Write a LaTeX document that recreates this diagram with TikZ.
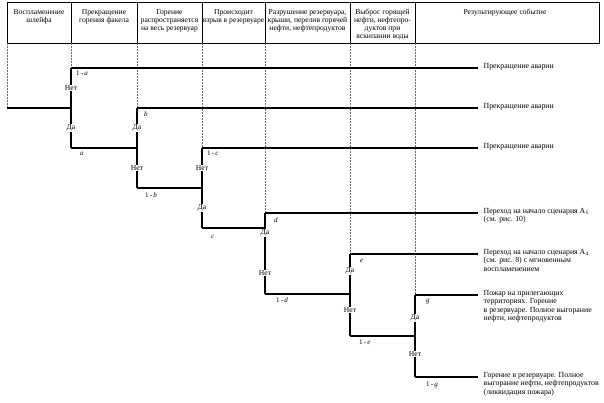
\documentclass[tikz,border=0pt]{standalone}
\usepackage{fontspec}
\setmainfont{Liberation Serif}
\usetikzlibrary{calc}

\tikzset{
  hdr/.style={anchor=north, align=center, inner sep=0pt, font=\fontsize{7.6}{8.1}\selectfont},
  yn/.style={fill=white, inner sep=0.5pt, font=\fontsize{7.6}{8}\selectfont},
  pr/.style={anchor=west, inner sep=0pt, font=\fontsize{7}{8}\selectfont},
  res/.style={anchor=north west, xshift=5.5pt, yshift=4.8pt, align=left, inner sep=0pt, font=\fontsize{7.8}{8.4}\selectfont},
  br/.style={line width=1.3pt},
  guide/.style={black!60, line width=0.4pt, dash pattern=on 1.5pt off 1.5pt},
}

\begin{document}
\begin{tikzpicture}[x=1pt,y=-1pt]
  \useasboundingbox (0,0) rectangle (604,402);

  \draw[line width=0.8pt] (7,2) rectangle (599,43);
  \foreach \x in {71,137,202,265,350,415}
    \draw[line width=0.6pt] (\x,2) -- (\x,43);

  \node[hdr] (h1) at (39,9) {Воспламенение\\шлейфа};
  \node[hdr] (h2) at (104,9) {Прекращение\\горения факела};
  \node[hdr] (h3) at (169.5,9) {Горение\\распространяется\\на весь резервуар};
  \node[hdr] (h4) at (233.5,9) {Происходит\\взрыв в резервуаре};
  \node[hdr] (h5) at (307.5,9) {Разрушение резервуара,\\крыши, перелив горячей\\нефти, нефтепродуктов};
  \node[hdr] (h6) at (382.5,9) {Выброс горящей\\нефти, нефтепро-\\дуктов при\\вскипании воды};
  \node[hdr] (h7) at (505,9) {Результирующее событие};

  \coordinate (s) at (7,108);
  \coordinate (a) at (71,108);
  \coordinate (a1) at (71,68);
  \coordinate (a2) at (71,148);
  \coordinate (b1) at (137,108);
  \coordinate (b2) at (137,188);
  \coordinate (b) at (137,148);
  \coordinate (c1) at (202,148);
  \coordinate (c2) at (202,228);
  \coordinate (c) at (202,188);
  \coordinate (d1) at (265,213);
  \coordinate (d2) at (265,294);
  \coordinate (d) at (265,228);
  \coordinate (e1) at (350,254);
  \coordinate (e2) at (350,336);
  \coordinate (e) at (350,294);
  \coordinate (g1) at (415,295);
  \coordinate (g2) at (415,377);
  \coordinate (g) at (415,336);

  \coordinate (r1) at (478,68);
  \coordinate (r2) at (478,108);
  \coordinate (r3) at (478,148);
  \coordinate (r4) at (478,213);
  \coordinate (r5) at (478,254);
  \coordinate (r6) at (478,295);
  \coordinate (r7) at (478,377);

  \draw[guide] (7,43) -- (s);
  \draw[guide] (71,43) -- (a1);
  \draw[guide] (137,43) -- (b1);
  \draw[guide] (202,43) -- (c1);
  \draw[guide] (265,43) -- (d1);
  \draw[guide] (350,43) -- (e1);
  \draw[guide] (415,43) -- (g1);

  \draw[br] (s) -- (a);
  \draw[br] (a1) -- (a2);
  \draw[br] (a1) -- (r1);
  \draw[br] (a2) -- (b);

  \draw[br] (b1) -- (b2);
  \draw[br] (b1) -- (r2);
  \draw[br] (b2) -- (c);

  \draw[br] (c1) -- (c2);
  \draw[br] (c1) -- (r3);
  \draw[br] (c2) -- (d);

  \draw[br] (d1) -- (d2);
  \draw[br] (d1) -- (r4);
  \draw[br] (d2) -- (e);

  \draw[br] (e1) -- (e2);
  \draw[br] (e1) -- (r5);
  \draw[br] (e2) -- (g);

  \draw[br] (g1) -- (g2);
  \draw[br] (g1) -- (r6);
  \draw[br] (g2) -- (r7);

  \node[yn] (na) at (71,88) {Нет};
  \node[yn] (ya) at (71,128) {Да};
  \node[yn] (yb) at (137,128) {Да};
  \node[yn] (nb) at (137,168) {Нет};
  \node[yn] (nc) at (202,168) {Нет};
  \node[yn] (yc) at (202,208) {Да};
  \node[yn] (yd) at (265,233) {Да};
  \node[yn] (nd) at (265,273) {Нет};
  \node[yn] (ye) at (350,271) {Да};
  \node[yn] (ne) at (350,310) {Нет};
  \node[yn] (yg) at (415,318) {Да};
  \node[yn] (ng) at (415,354) {Нет};

  \node[pr] (pa1) at (76,73) {1\,-\,\textit{a}};
  \node[pr] (pa) at (80,154) {\textit{a}};
  \node[pr] (pb) at (144,114) {\textit{b}};
  \node[pr] (pb1) at (145,195) {1\,-\,\textit{b}};
  \node[pr] (pc1) at (207,153) {1\,-\,\textit{c}};
  \node[pr] (pc) at (211,237) {\textit{c}};
  \node[pr] (pd) at (274,220) {\textit{d}};
  \node[pr] (pd1) at (276,300) {1\,-\,\textit{d}};
  \node[pr] (pe) at (360,261) {\textit{e}};
  \node[pr] (pe1) at (359,342) {1\,-\,\textit{e}};
  \node[pr] (pg) at (426,302) {\textit{g}};
  \node[pr] (pg1) at (426,385) {1\,-\,\textit{g}};

  \node[res] (t1) at (r1) {Прекращение аварии};
  \node[res] (t2) at (r2) {Прекращение аварии};
  \node[res] (t3) at (r3) {Прекращение аварии};
  \node[res] (t4) at (r4) {Переход на начало сценария А$_5$\\(см. рис. 10)};
  \node[res] (t5) at (r5) {Переход на начало сценария А$_4$\\(см. рис. 8) с мгновенным\\воспламенением};
  \node[res] (t6) at (r6) {Пожар на прилегающих\\территориях. Горение\\в резервуаре. Полное выгорание\\нефти, нефтепродуктов};
  \node[res] (t7) at (r7) {Горение в резервуаре. Полное\\выгорание нефти, нефтепродуктов\\(ликвидация пожара)};
\end{tikzpicture}
\end{document}
